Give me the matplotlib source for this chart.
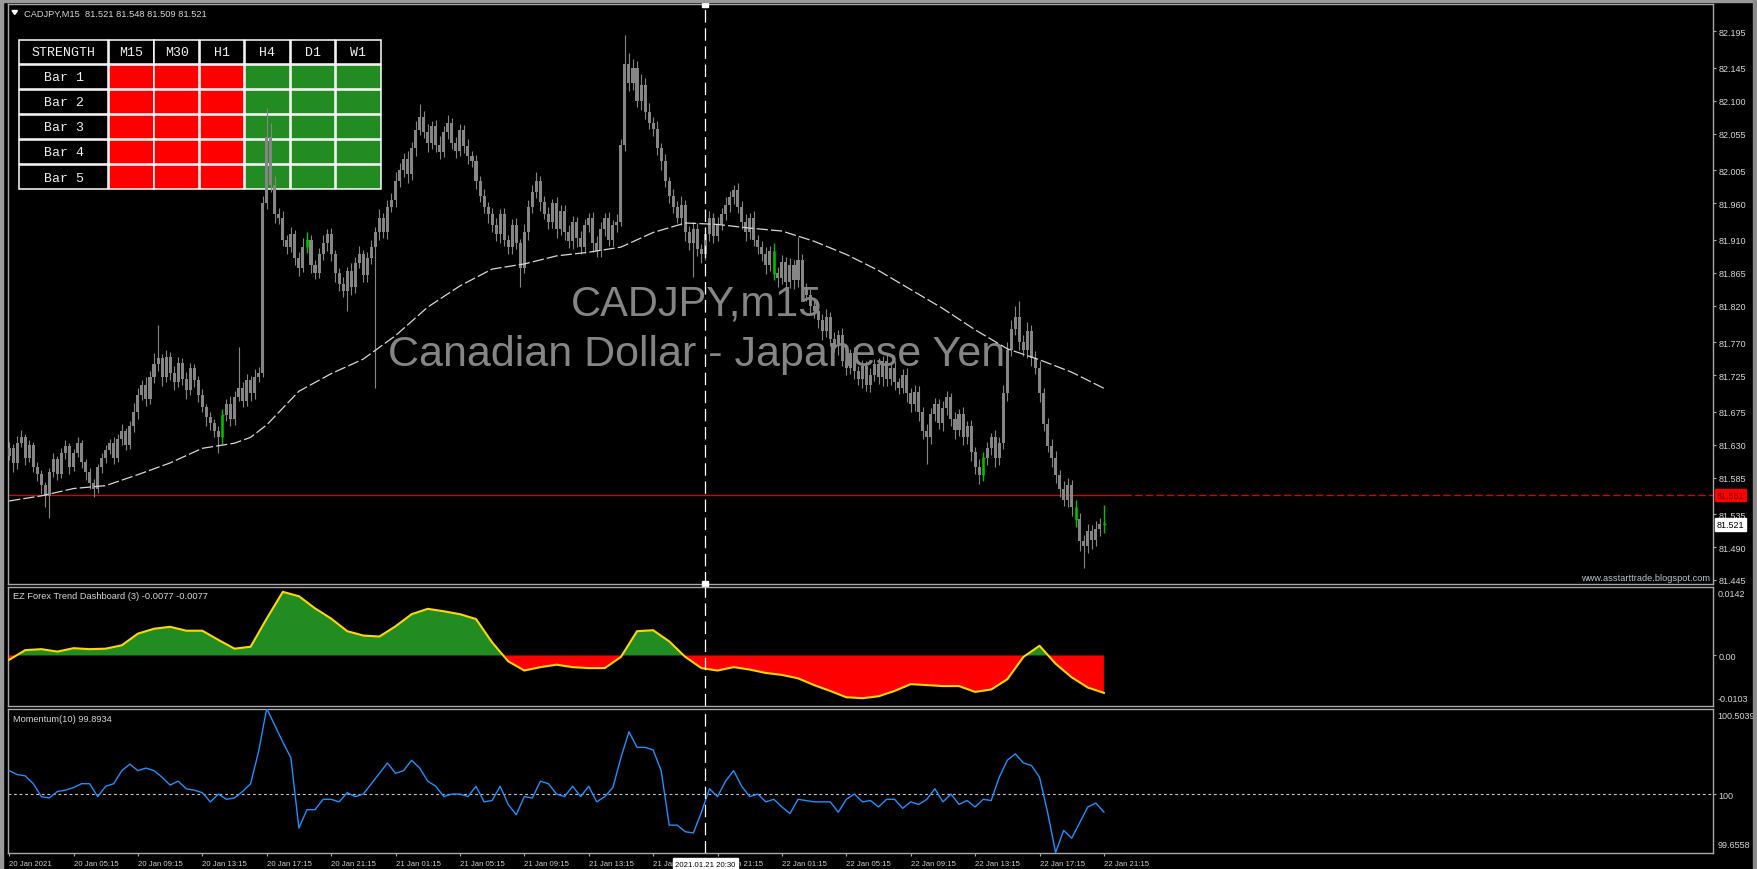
import numpy as np
import matplotlib
matplotlib.use("Agg")
import matplotlib.pyplot as plt
from matplotlib.patches import Rectangle, Polygon

W, H = 1757, 870

# ---- CADJPY M15, 20-22 Jan 2021 ----
# candle values are (price - 81.000) * 1000, one entry per bar (bar 0 = 20 Jan 01:15)
BASE = 81.0
first_open = 615
close_pts = [
    625, 605, 632, 640, 612, 630, 600, 590, 575, 560,
    592, 610, 590, 618, 628, 600, 618, 632, 606, 592,
    578, 570, 600, 612, 622, 632, 612, 638, 648, 630,
    655, 675, 698, 712, 692, 722, 740, 748, 722, 750,
    728, 715, 742, 720, 705, 735, 718, 698, 682, 668,
    660, 648, 640, 670, 686, 665, 695, 708, 690, 718,
    700, 722, 728, 960, 1050, 985, 945, 940, 910, 900,
    918, 885, 872, 900, 910, 875, 865, 890, 905, 918,
    890, 865, 850, 840, 868, 845, 878, 890, 862, 885,
    900, 920, 940, 920, 955, 965, 990, 1005, 1020, 1000,
    1035, 1060, 1078, 1058, 1042, 1065, 1040, 1030, 1058, 1070,
    1042, 1032, 1060, 1038, 1025, 1018, 990, 970, 955, 945,
    930, 918, 945, 910, 900, 930, 905, 872, 920, 955,
    975, 990, 962, 945, 935, 960, 925, 950, 920, 908,
    935, 912, 900, 930, 940, 905, 895, 925, 940, 910,
    930, 935, 1040, 1150, 1125, 1145, 1100, 1122, 1085, 1070,
    1062, 1035, 1018, 990, 970, 955, 940, 958, 920, 905,
    925, 898, 890, 918, 940, 915, 932, 945, 958, 968,
    978, 955, 935, 920, 940, 910, 900, 890, 875, 895,
    865, 858, 880, 852, 875, 855, 882, 845, 835, 820,
    812, 800, 785, 805, 775, 765, 780, 745, 735, 755,
    730, 720, 738, 712, 725, 740, 722, 745, 720, 735,
    715, 708, 725, 700, 685, 702, 675, 648, 640, 672,
    685, 660, 680, 695, 665, 650, 672, 640, 655, 620,
    600, 588, 612, 625, 640, 612, 632, 700, 760, 788,
    805, 770, 760, 785, 748, 735, 700, 658, 628, 612,
    588, 570, 555, 575, 545, 528, 498, 492, 512, 500,
    515, 521, 521,
]
up_wick = [
    8, 6, 10, 10, 5, 7, 4, 6, 5, 4,
    6, 8, 5, 7, 9, 4, 6, 8, 5, 4,
    6, 5, 4, 7, 8, 6, 9, 7, 10, 5,
    8, 12, 9, 6, 10, 8, 15, 45, 6, 9,
    7, 10, 8, 6, 9, 7, 5, 6, 8, 4,
    6, 5, 7, 9, 6, 10, 8, 55, 7, 9,
    6, 12, 8, 10, 40, 20, 12, 8, 10, 7,
    9, 6, 8, 12, 10, 6, 8, 9, 11, 7,
    8, 6, 7, 9, 5, 10, 8, 12, 6, 9,
    10, 8, 12, 7, 10, 9, 12, 10, 8, 11,
    9, 12, 18, 8, 10, 7, 9, 12, 8, 10,
    6, 9, 8, 7, 10, 6, 8, 7, 9, 6,
    8, 10, 7, 9, 6, 8, 10, 6, 12, 9,
    10, 12, 7, 8, 10, 6, 9, 8, 7, 10,
    8, 6, 10, 9, 7, 8, 10, 9, 6, 8,
    7, 10, 8, 40, 15, 12, 10, 14, 9, 12,
    8, 10, 7, 9, 6, 10, 8, 12, 7, 9,
    10, 8, 6, 9, 10, 7, 9, 8, 10, 9,
    7, 9, 8, 10, 6, 9, 7, 8, 10, 6,
    10, 8, 9, 7, 10, 8, 32, 9, 6, 8,
    9, 7, 8, 10, 6, 9, 7, 10, 8, 6,
    9, 7, 8, 6, 10, 7, 9, 6, 8, 7,
    9, 6, 8, 10, 7, 9, 8, 6, 10, 8,
    9, 7, 10, 8, 6, 9, 7, 10, 8, 9,
    7, 10, 8, 9, 6, 10, 8, 12, 10, 12,
    15, 22, 10, 12, 8, 10, 9, 7, 8, 10,
    9, 8, 10, 9, 7, 10, 8, 9, 10, 8,
    10, 9, 27,
]
dn_wick = [
    6, 12, 8, 5, 10, 6, 8, 10, 12, 15,
    30, 6, 8, 5, 7, 10, 6, 5, 8, 10,
    8, 12, 6, 9, 7, 5, 8, 6, 9, 7,
    6, 8, 10, 7, 9, 6, 8, 10, 12, 7,
    9, 10, 6, 8, 12, 7, 9, 10, 8, 12,
    10, 8, 22, 9, 7, 10, 8, 6, 9, 7,
    10, 8, 6, 5, 8, 10, 12, 9, 8, 10,
    7, 10, 12, 6, 8, 10, 9, 7, 8, 10,
    9, 12, 10, 8, 27, 10, 8, 7, 9, 10,
    8, 192, 10, 8, 9, 7, 10, 8, 9, 12,
    8, 10, 7, 9, 12, 8, 10, 9, 7, 10,
    8, 10, 7, 9, 12, 8, 10, 9, 8, 12,
    10, 9, 12, 8, 10, 9, 7, 27, 8, 10,
    9, 8, 12, 7, 10, 9, 12, 8, 10, 9,
    10, 12, 9, 8, 10, 12, 9, 8, 10, 9,
    8, 10, 6, 8, 12, 10, 9, 12, 10, 8,
    10, 9, 12, 8, 10, 9, 7, 10, 12, 9,
    46, 10, 12, 8, 9, 10, 7, 9, 8, 10,
    9, 8, 10, 12, 9, 8, 10, 9, 12, 8,
    10, 12, 9, 10, 8, 12, 9, 10, 8, 12,
    9, 10, 12, 8, 10, 9, 12, 8, 10, 9,
    10, 8, 12, 9, 10, 8, 9, 12, 10, 8,
    10, 9, 8, 12, 10, 9, 12, 10, 37, 9,
    10, 8, 12, 9, 10, 12, 8, 10, 9, 12,
    10, 12, 8, 10, 9, 12, 10, 8, 10, 9,
    8, 10, 9, 12, 10, 9, 12, 10, 8, 12,
    10, 12, 9, 10, 12, 10, 14, 30, 10, 12,
    9, 10, 12,
]
signal_bars = [53, 74, 190, 242, 265, 272]

# dashed moving average
ma_bars = [0, 8, 16, 24, 32, 40, 48, 56, 60, 64, 72, 80, 88, 96, 104, 112, 120, 128,
           136, 144, 152, 160, 168, 176, 184, 192, 200, 208, 216, 224, 232, 240, 248,
           256, 264, 272]
ma_price = [81.553, 81.560, 81.570, 81.574, 81.589, 81.605, 81.625, 81.632, 81.640,
            81.657, 81.703, 81.727, 81.747, 81.779, 81.818, 81.847, 81.870, 81.877,
            81.888, 81.893, 81.900, 81.920, 81.933, 81.931, 81.926, 81.922, 81.908,
            81.890, 81.868, 81.842, 81.816, 81.787, 81.761, 81.746, 81.729, 81.707]

# EZ Forex Trend Dashboard (every 4 bars)
ind_bars = list(range(0, 273, 4))
ind_vals = [
    -0.0009, 0.0011, 0.0013, 0.0008, 0.0015, 0.0013, 0.0014, 0.0021, 0.0045, 0.0055,
    0.0059, 0.0051, 0.0051, 0.0032, 0.0014, 0.0018, 0.0076, 0.0131, 0.0122, 0.0097,
    0.0076, 0.0050, 0.0041, 0.0039, 0.0060, 0.0085, 0.0096, 0.0091, 0.0085, 0.0075,
    0.0027, -0.0012, -0.0031, -0.0024, -0.0019, -0.0024, -0.0026, -0.0026, -0.0003, 0.0050,
    0.0052, 0.0029, -0.0003, -0.0026, -0.0031, -0.0024, -0.0029, -0.0036, -0.0040, -0.0047,
    -0.0061, -0.0073, -0.0086, -0.0088, -0.0084, -0.0073, -0.0059, -0.0061, -0.0063, -0.0063,
    -0.0075, -0.0070, -0.0049, -0.0003, 0.0020, -0.0017, -0.0045, -0.0066, -0.0077,
]

# Momentum(10) (every 2 bars)
mom_bars = list(range(0, 273, 2))
mom_vals = [
    100.138, 100.115, 100.107, 100.061, 99.985, 99.977, 100.015, 100.023, 100.038, 100.061,
    100.061, 99.985, 100.046, 100.061, 100.138, 100.176, 100.138, 100.153, 100.138, 100.099,
    100.053, 100.076, 100.031, 100.023, 100.008, 99.954, 100.000, 99.969, 99.977, 100.015,
    100.061, 100.252, 100.5039, 100.405, 100.306, 100.214, 99.800, 99.908, 99.908, 99.969,
    99.969, 99.954, 100.008, 99.985, 100.000, 100.061, 100.122, 100.183, 100.122, 100.138,
    100.199, 100.153, 100.076, 100.046, 99.985, 100.000, 100.000, 99.985, 100.046, 99.954,
    99.962, 100.046, 99.939, 99.878, 99.985, 99.977, 100.076, 100.061, 100.000, 99.985,
    100.046, 99.985, 100.046, 99.954, 99.985, 100.038, 100.214, 100.367, 100.275, 100.275,
    100.260, 100.138, 99.817, 99.817, 99.778, 99.771, 99.893, 100.031, 99.985, 100.076,
    100.138, 100.046, 99.985, 100.000, 99.954, 99.969, 99.924, 99.885, 99.969, 99.962,
    99.954, 99.954, 99.954, 99.893, 99.969, 100.000, 99.954, 99.962, 99.924, 99.969,
    99.969, 99.916, 99.954, 99.939, 99.969, 100.031, 99.954, 100.000, 99.939, 99.962,
    99.924, 99.969, 99.962, 100.099, 100.199, 100.237, 100.183, 100.168, 100.099, 99.893,
    99.6558, 99.786, 99.740, 99.832, 99.924, 99.947, 99.8934,
]

price_ticks = [82.195, 82.145, 82.100, 82.055, 82.005, 81.960, 81.910, 81.865, 81.820,
               81.770, 81.725, 81.675, 81.630, 81.585, 81.535, 81.490, 81.445]
time_tick_bars = list(range(0, 273, 16))
time_labels = ["20 Jan 2021", "20 Jan 05:15", "20 Jan 09:15", "20 Jan 13:15",
               "20 Jan 17:15", "20 Jan 21:15", "21 Jan 01:15", "21 Jan 05:15",
               "21 Jan 09:15", "21 Jan 13:15", "21 Jan 17:15", "21 Jan 21:15",
               "22 Jan 01:15", "22 Jan 05:15", "22 Jan 09:15", "22 Jan 13:15",
               "22 Jan 17:15", "22 Jan 21:15"]

level_price = 81.561
last_price = 81.521
cross_bar = 173
cross_label = "2021.01.21 20:30"

table_cols = ["M15", "M30", "H1", "H4", "D1", "W1"]
table_rows = ["Bar 1", "Bar 2", "Bar 3", "Bar 4", "Bar 5"]
table_state = [[-1, -1, -1, 1, 1, 1]] * 5

CANDLE = "#858585"
SIGNAL = "#00c000"
FRAME = "#a8a8a8"
TXT = "#d4d8dc"

plt.rcParams["font.family"] = ["Liberation Sans", "DejaVu Sans"]


def area(left, top, right, bottom):
    return [left / W, 1 - bottom / H, (right - left) / W, (bottom - top) / H]


fig = plt.figure(figsize=(W / 100, H / 100), dpi=100)
fig.patch.set_facecolor("black")

ax = fig.add_axes(area(7.5, 4.5, 1712.5, 584.5))
ax_ind = fig.add_axes(area(7.5, 587.5, 1712.5, 706.5))
ax_mom = fig.add_axes(area(7.5, 709.5, 1712.5, 853.5))
ov = fig.add_axes([0, 0, 1, 1])
ov.set_xlim(0, W)
ov.set_ylim(H, 0)
ov.axis("off")
ov.patch.set_alpha(0)

for a in (ax, ax_ind, ax_mom):
    a.set_facecolor("black")
    a.set_xlim(-0.4, 423.2)
    a.set_xticks([])
    for s in a.spines.values():
        s.set_color(FRAME)
        s.set_linewidth(1.0)
    a.yaxis.tick_right()
    a.tick_params(axis="y", length=2.2, width=0.8, color=FRAME, labelcolor=TXT,
                  labelsize=6.5, pad=2)

# ---- main price panel ----
ax.set_ylim(81.4402, 82.2330)
ax.set_yticks(price_ticks)
ax.set_yticklabels([f"{p:.3f}" for p in price_ticks])

# strength table (sits behind the candles)
x0, y0 = 19, 40.5
first_w, cell_w, pitch_x = 89, 44.5, 45.4
cell_h, pitch_y = 24, 25.1


def cell(x, y, w, fc, txt=None):
    ax.add_patch(Rectangle((x, y), w, cell_h, facecolor=fc, edgecolor="white",
                           lw=1.1, transform=ov.transData, zorder=1.2, clip_on=False))
    if txt:
        ax.text(x + w / 2, y + cell_h / 2 + 0.5, txt, ha="center", va="center",
                color="#f0f0f0", family="Liberation Mono", fontsize=9.5,
                transform=ov.transData, zorder=1.3)


cell(x0, y0, first_w, "black", "STRENGTH")
for j, name in enumerate(table_cols):
    cell(x0 + first_w + 1 + j * pitch_x, y0, cell_w, "black", name)
for r, row in enumerate(table_rows):
    y = y0 + (r + 1) * pitch_y
    cell(x0, y, first_w, "black", row)
    for j, st in enumerate(table_state[r]):
        cell(x0 + first_w + 1 + j * pitch_x, y, cell_w,
             "#ff0000" if st < 0 else "#228b22")

# watermark
ax.text(696.5, 316, "CADJPY,m15", ha="center", va="baseline", fontsize=30,
        color="#858585", transform=ov.transData, zorder=1)
ax.text(697, 366, "Canadian Dollar - Japanese Yen", ha="center", va="baseline",
        fontsize=31, color="#858585", transform=ov.transData, zorder=1)

# candles
n = min(len(close_pts), len(up_wick), len(dn_wick))
idx = np.arange(n)
c = BASE + np.array(close_pts[:n]) / 1000
o = np.r_[BASE + first_open / 1000, c[:-1]]
hi = np.maximum(o, c) + np.array(up_wick[:n]) / 1000
lo = np.minimum(o, c) - np.array(dn_wick[:n]) / 1000
grey = ~np.isin(idx, signal_bars)
green = ~grey

ax.vlines(idx[grey], lo[grey], hi[grey], color=CANDLE, lw=0.8, zorder=3)
body_h = np.maximum(np.abs(c - o), 0.0013)
ax.bar(idx[grey], body_h[grey], bottom=np.minimum(o, c)[grey], width=0.76,
       color=CANDLE, linewidth=0, zorder=3)
ax.vlines(idx[green], lo[green], hi[green], color=SIGNAL, lw=1.0, zorder=3.5)
ax.vlines(idx[green], np.minimum(o, c)[green], np.minimum(o, c)[green] + body_h[green],
          color=SIGNAL, lw=1.8, zorder=3.5)
ax.hlines(c[green], idx[green] - 0.2, idx[green] + 0.5, color=SIGNAL, lw=1.0, zorder=3.5)

# level line and moving average
solid_end = n + 4
ax.plot([-0.4, solid_end], [level_price, level_price], color="#e00000", lw=0.9, zorder=2.5)
ax.plot([solid_end, 423.2], [level_price, level_price], color="#e00000", lw=0.9,
        dashes=(6, 2.5), zorder=2.5)
ax.plot(ma_bars, ma_price, color="#d8d8d8", lw=0.9, dashes=(9, 2.5), zorder=4)

# price boxes on the axis
ax.annotate(f"{level_price:.3f}", xy=(1, level_price), xycoords=("axes fraction", "data"),
            xytext=(3.2, 0), textcoords="offset points", va="center", ha="left",
            fontsize=6.5, color="#7a0000", annotation_clip=False,
            bbox=dict(boxstyle="square,pad=0.2", fc="#ff0000", ec="#ff0000"))
ax.annotate(f"{last_price:.3f}", xy=(1, last_price), xycoords=("axes fraction", "data"),
            xytext=(3.2, 0), textcoords="offset points", va="center", ha="left",
            fontsize=6.5, color="black", annotation_clip=False,
            bbox=dict(boxstyle="square,pad=0.2", fc="white", ec="white"))

# ---- EZ Forex Trend Dashboard panel ----
iv = np.array(ind_vals[:len(ind_bars)])
ib = np.array(ind_bars[:len(iv)])
ax_ind.set_ylim(-0.0103, 0.0142)
ax_ind.fill_between(ib, iv, 0, where=iv >= 0, interpolate=True, color="#228b22", lw=0)
ax_ind.fill_between(ib, iv, 0, where=iv <= 0, interpolate=True, color="#ff0000", lw=0)
ax_ind.plot(ib, iv, color="#ffd700", lw=1.5, zorder=3)
ax_ind.set_yticks([0])
ax_ind.set_yticklabels(["0.00"])
ax_ind.annotate("0.0142", xy=(1, 1), xycoords="axes fraction", xytext=(3.5, -1.5),
                textcoords="offset points", va="top", ha="left", fontsize=6.5,
                color=TXT, annotation_clip=False)
ax_ind.annotate("-0.0103", xy=(1, 0), xycoords="axes fraction", xytext=(3.5, 1.5),
                textcoords="offset points", va="bottom", ha="left", fontsize=6.5,
                color=TXT, annotation_clip=False)

# ---- Momentum panel ----
m = min(len(mom_bars), len(mom_vals))
ax_mom.set_ylim(99.6558, 100.5039)
ax_mom.axhline(100, color="#c8c8c8", lw=0.8, dashes=(2.5, 2.5), zorder=1)
ax_mom.plot(mom_bars[:m], mom_vals[:m], color="#1e90ff", lw=1.0, zorder=3)
ax_mom.set_yticks([100])
ax_mom.set_yticklabels(["100"])
ax_mom.annotate("100.5039", xy=(1, 1), xycoords="axes fraction", xytext=(3.5, -1.5),
                textcoords="offset points", va="top", ha="left", fontsize=6.5,
                color=TXT, annotation_clip=False)
ax_mom.annotate("99.6558", xy=(1, 0), xycoords="axes fraction", xytext=(3.5, 2.5),
                textcoords="offset points", va="bottom", ha="left", fontsize=6.5,
                color=TXT, annotation_clip=False)

ax_mom.set_xticks(time_tick_bars)
ax_mom.set_xticklabels(time_labels, ha="left")
ax_mom.tick_params(axis="x", length=2.5, width=0.8, color=FRAME, labelcolor="#cccccc",
                   labelsize=5.6, pad=3)

# ---- crosshair ----
for a in (ax, ax_ind, ax_mom):
    a.axvline(cross_bar, color="white", lw=0.9, dashes=(10, 4.5), zorder=7)
ylo, yhi = ax.get_ylim()
ax.plot([cross_bar], [yhi], "s", ms=4.3, color="white", clip_on=False, zorder=8)
ax.plot([cross_bar], [ylo], "s", ms=4.3, color="white", clip_on=False, zorder=8)
ax_mom.annotate(cross_label, xy=(cross_bar, 0), xycoords=("data", "axes fraction"),
                xytext=(0, -8.3), textcoords="offset points", ha="center", va="center",
                fontsize=5.6, color="black", zorder=10, annotation_clip=False,
                bbox=dict(boxstyle="square,pad=0.3", fc="white", ec="white"))

# ---- labels and window frame ----
ov.add_patch(Polygon([(12, 11.5), (17.5, 11.5), (14.75, 15.5)], color="white"))
ov.text(24, 16.5, "CADJPY,M15  81.521 81.548 81.509 81.521", ha="left",
        va="baseline", fontsize=6.7, color=TXT)
ov.text(13, 599.5, "EZ Forex Trend Dashboard (3) -0.0077 -0.0077", ha="left",
        va="baseline", fontsize=6.7, color=TXT)
ov.text(13, 722, "Momentum(10) 99.8934", ha="left", va="baseline", fontsize=6.7,
        color=TXT)
ov.text(1710, 581, "www.asstarttrade.blogspot.com", ha="right", va="baseline",
        fontsize=6.7, color="#b8c4d0")
ov.add_patch(Rectangle((0, 0), W, 2.7, color="#9a9a9a"))
ov.add_patch(Rectangle((0, 0), 2.7, H, color="#9a9a9a"))
ov.add_patch(Rectangle((W - 4, 0), 4, H, color="#8a8a8a"))

fig.savefig("out.png", dpi=100, facecolor="black")
